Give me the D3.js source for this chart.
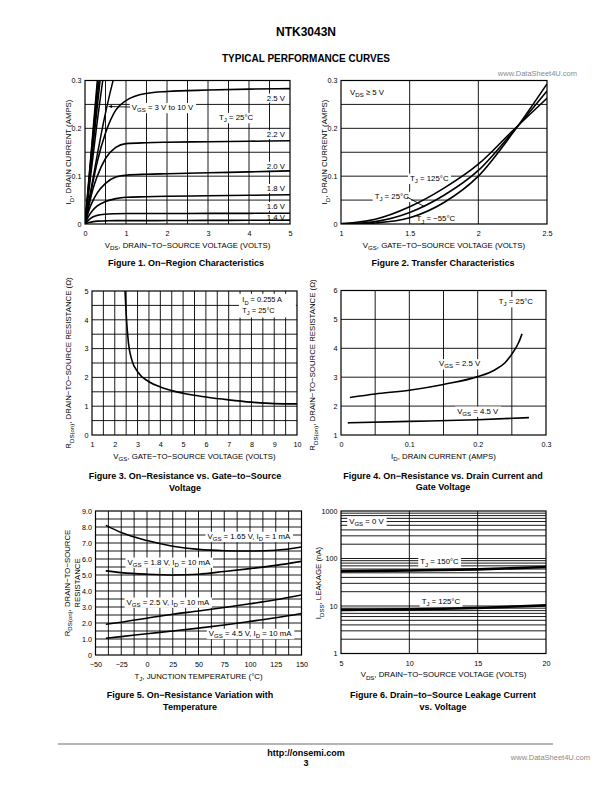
<!DOCTYPE html>
<html><head><meta charset="utf-8">
<script src="https://cdn.jsdelivr.net/npm/d3@7"></script>
<style>body{margin:0;background:#fff}svg{display:block}</style>
</head><body><svg id="page" width="612" height="792"></svg>
<script>
// ---------- DATA ----------
// Figure 1: On-region characteristics
const fig1Vds = [0, 0.1, 0.2, 0.3, 0.5, 0.75, 1, 1.5, 2, 3, 4, 5];
const fig1Id14 = [0, 0.003, 0.005, 0.006, 0.0065, 0.007, 0.007, 0.007, 0.0072, 0.0075, 0.0078, 0.008];
const fig1Id16 = [0, 0.009, 0.015, 0.018, 0.0205, 0.0215, 0.022, 0.022, 0.022, 0.0222, 0.0223, 0.0225];
const fig1Id18 = [0, 0.018, 0.03, 0.038, 0.047, 0.053, 0.056, 0.057, 0.058, 0.059, 0.060, 0.061];
const fig1Id20 = [0, 0.03, 0.05, 0.065, 0.085, 0.098, 0.102, 0.104, 0.105, 0.107, 0.109, 0.111];
const fig1Id22 = [0, 0.04, 0.075, 0.1, 0.137, 0.16, 0.168, 0.17, 0.171, 0.172, 0.173, 0.174];
const fig1Id25 = [0, 0.045, 0.09, 0.13, 0.19, 0.238, 0.258, 0.273, 0.277, 0.28, 0.282, 0.283];
const fig1SteepVds = [0, 0.1, 0.2, 0.3, 0.4, 0.5, 0.6, 0.7];
const fig1Id3V = [0, 0.05, 0.098, 0.145, 0.19, 0.232, 0.27, 0.305];
const fig1Id4V = [0, 0.073, 0.145, 0.215, 0.28, 0.34, 0.4, 0.46];
const fig1Id5V = [0, 0.083, 0.165, 0.245, 0.325, 0.4, 0.48, 0.55];
const fig1Id6V = [0, 0.089, 0.178, 0.265, 0.35, 0.44, 0.52, 0.6];
const fig1Id8V = [0, 0.096, 0.19, 0.285, 0.38, 0.47, 0.56, 0.65];
const fig1Id10V = [0, 0.1, 0.2, 0.3, 0.4, 0.5, 0.6, 0.7];
const fig1XTicks = [0, 1, 2, 3, 4, 5];
const fig1YTicks = [0, 0.1, 0.2, 0.3];
const fig1CurveLabels = ["2.5 V", "2.2 V", "2.0 V", "1.8 V", "1.6 V", "1.4 V"];
const fig1CurveLabelY = [0.264, 0.1875, 0.1215, 0.075, 0.0375, 0.015];

// Figure 2: Transfer characteristics
const fig2Vgs = [1.0, 1.1, 1.25, 1.5, 1.75, 2.0, 2.25, 2.5];
const fig2Id125 = [0.001, 0.003, 0.01, 0.036, 0.075, 0.125, 0.195, 0.263];
const fig2Id25 = [0, 0.001, 0.005, 0.024, 0.06, 0.112, 0.192, 0.278];
const fig2IdM55 = [0, 0, 0.002, 0.013, 0.045, 0.1, 0.19, 0.293];
const fig2XTicks = [1, 1.5, 2, 2.5];
const fig2YTicks = [0, 0.1, 0.2, 0.3];

// Figure 3: On-resistance vs gate-to-source voltage
const fig3Vgs = [2.45, 2.5, 2.6, 2.75, 3, 3.5, 4, 5, 6, 7, 8, 9, 10];
const fig3Rds = [5.0, 4.2, 3.2, 2.6, 2.2, 1.85, 1.67, 1.45, 1.32, 1.22, 1.14, 1.09, 1.08];
const fig3XTicks = [1, 2, 3, 4, 5, 6, 7, 8, 9, 10];
const fig3YTicks = [0, 1, 2, 3, 4, 5];

// Figure 4: On-resistance vs drain current
const fig4Id25 = [0.013, 0.05, 0.1, 0.15, 0.2, 0.225, 0.24, 0.25, 0.26, 0.265];
const fig4Rds25 = [2.3, 2.42, 2.55, 2.75, 3.02, 3.25, 3.5, 3.8, 4.2, 4.5];
const fig4Id45 = [0.01, 0.1, 0.2, 0.275];
const fig4Rds45 = [1.42, 1.47, 1.53, 1.6];
const fig4XTicks = [0, 0.1, 0.2, 0.3];
const fig4YTicks = [1, 2, 3, 4, 5, 6];

// Figure 5: On-resistance vs temperature
const fig5Tj = [-40, -25, 0, 25, 50, 75, 100, 125, 150];
const fig5R165 = [8.1, 7.65, 7.15, 6.8, 6.6, 6.52, 6.5, 6.55, 6.75];
const fig5R18 = [5.26, 5.15, 5.05, 5.0, 5.05, 5.22, 5.4, 5.6, 5.85];
const fig5R25 = [1.92, 2.05, 2.3, 2.55, 2.75, 2.97, 3.2, 3.45, 3.75];
const fig5R45 = [1.05, 1.15, 1.33, 1.5, 1.68, 1.88, 2.1, 2.33, 2.6];
const fig5XTicks = [-50, -25, 0, 25, 50, 75, 100, 125, 150];
const fig5YTicks = [0, 1, 2, 3, 4, 5, 6, 7, 8, 9];

// Figure 6: Leakage current vs voltage
const fig6Vds = [5, 10, 15, 20];
const fig6I150 = [54, 56, 59, 66];
const fig6I125 = [8.3, 8.5, 9.1, 10.3];
const fig6XTicks = [5, 10, 15, 20];
const fig6YTicks = [1, 10, 100, 1000];

// ---------- DRAWING ----------
const FONT = '"Liberation Sans", Arial, Helvetica, sans-serif';
const LFS = 7.8;   // in-plot label / axis-title size
const TFS = 7.2;   // tick label size
const CFS = 9;     // caption size
const svg = d3.select('#page').attr('font-family', FONT);
const zip = (xs, ys) => xs.map((v, i) => [v, ys[i]]);

function rich(sel, str, fs) {
  const re = /_\{([^}]*)\}/g;
  let last = 0, m, sub = false;
  while ((m = re.exec(str))) {
    if (m.index > last) {
      sel.append('tspan').attr('dy', sub ? -fs * 0.3 : null).text(str.slice(last, m.index));
      sub = false;
    }
    sel.append('tspan').attr('font-size', fs * 0.78).attr('dy', sub ? 0 : fs * 0.3).text(m[1]);
    sub = true;
    last = re.lastIndex;
  }
  if (last < str.length) sel.append('tspan').attr('dy', sub ? -fs * 0.3 : null).text(str.slice(last));
}

function label(g, x, y, str, o = {}) {
  const fs = o.fs || LFS;
  const t = g.append('text').attr('x', x).attr('y', y + fs * 0.36)
    .attr('font-size', fs).attr('text-anchor', o.anchor || 'start').attr('fill', o.fill || '#000')
    .attr('font-weight', o.bold ? 'bold' : null);
  rich(t, str, fs);
  if (o.box) {
    const b = t.node().getBBox();
    g.insert('rect', () => t.node()).attr('x', b.x - 2).attr('y', b.y)
      .attr('width', b.width + 4).attr('height', b.height).attr('fill', '#fff');
  }
  return t;
}

let clipN = 0;
function panel(p) {
  const g = svg.append('g');
  const x = d3.scaleLinear().domain(p.xDomain).range([p.left, p.right]);
  const y = (p.log ? d3.scaleLog() : d3.scaleLinear()).domain(p.yDomain).range([p.bottom, p.top]);
  g.append('g').selectAll('line').data(p.xGrid).join('line')
    .attr('x1', d => x(d)).attr('x2', d => x(d)).attr('y1', p.top).attr('y2', p.bottom)
    .attr('stroke', '#000').attr('stroke-width', 0.9);
  g.append('g').selectAll('line').data(p.yGrid).join('line')
    .attr('y1', d => y(d)).attr('y2', d => y(d)).attr('x1', p.left).attr('x2', p.right)
    .attr('stroke', '#000').attr('stroke-width', 0.9);
  const ax = g.append('g').attr('transform', `translate(0,${p.bottom})`)
    .call(d3.axisBottom(x).tickValues(p.xTicks).tickFormat(p.xFmt).tickSize(0).tickPadding(7.3));
  ax.attr('font-size', TFS).attr('font-family', FONT);
  ax.select('.domain').remove();
  const ay = g.append('g').attr('transform', `translate(${p.left},0)`)
    .call(d3.axisLeft(y).tickValues(p.yTicks).tickFormat(p.yFmt).tickSize(0).tickPadding(3.5));
  ay.attr('font-size', TFS).attr('font-family', FONT);
  ay.select('.domain').remove();
  const id = 'clip' + (clipN++);
  svg.append('clipPath').attr('id', id).append('rect')
    .attr('x', p.left).attr('y', p.top).attr('width', p.right - p.left).attr('height', p.bottom - p.top);
  const annot = g.append('g');
  const curves = g.append('g').attr('clip-path', `url(#${id})`);
  g.append('rect').attr('x', p.left).attr('y', p.top).attr('width', p.right - p.left)
    .attr('height', p.bottom - p.top).attr('fill', 'none').attr('stroke', '#000').attr('stroke-width', 1.2);
  const line = d3.line().x(d => x(d[0])).y(d => y(d[1])).curve(d3.curveMonotoneX);
  function curve(pts, w = 1.6) {
    curves.append('path').attr('d', line(pts)).attr('fill', 'none').attr('stroke', '#000')
      .attr('stroke-width', w).attr('stroke-linejoin', 'round');
  }
  if (p.xTitle) label(g, (p.left + p.right) / 2, p.bottom + 21, p.xTitle, { anchor: 'middle' });
  if (p.yTitle) {
    p.yTitle.forEach((t, i) => {
      const tg = g.append('g').attr('transform', `translate(${p.yTitleX[i]},${p.yTitleY}) rotate(-90)`);
      label(tg, 0, 0, t, { anchor: 'middle' });
    });
  }
  return { g, x, y, annot, curve };
}

const fmt = d => String(d);
const fmtMinus = d => (d < 0 ? '\u2212' + Math.abs(d) : String(d));

// Title
label(svg, 306, 32, 'NTK3043N', { anchor: 'middle', fs: 12, bold: true });
label(svg, 306, 58, 'TYPICAL PERFORMANCE CURVES', { anchor: 'middle', fs: 10, bold: true });
label(svg, 577, 73, 'www.DataSheet4U.com', { anchor: 'end', fs: 7.5, fill: '#8a8a8a' });

// ---- Figure 1 ----
{
  const P = panel({
    left: 85, right: 290, top: 80.5, bottom: 224,
    xDomain: [0, 5], yDomain: [0, 0.3],
    xGrid: d3.range(0.5, 5, 0.5), yGrid: [0.05, 0.1, 0.15, 0.2, 0.25],
    xTicks: fig1XTicks, yTicks: fig1YTicks, xFmt: fmt, yFmt: fmt,
    xTitle: 'V_{DS}, DRAIN\u2212TO\u2212SOURCE VOLTAGE (VOLTS)',
    yTitle: ['I_{D}, DRAIN CURRENT (AMPS)'], yTitleX: [68.5], yTitleY: 152
  });
  fig1CurveLabels.forEach((t, i) => label(P.annot, P.x(4.88), P.y(fig1CurveLabelY[i]), t, { anchor: 'end', box: true }));
  label(P.annot, P.x(1.14), P.y(0.2444), 'V_{GS} = 3 V to 10 V', { box: true });
  label(P.annot, P.x(3.27), P.y(0.2235), 'T_{J} = 25\u00B0C', { box: true });
  P.annot.append('line').attr('x1', P.x(0.62)).attr('y1', P.y(0.2455)).attr('x2', P.x(1.1)).attr('y2', P.y(0.2445))
    .attr('stroke', '#000').attr('stroke-width', 0.9);
  P.annot.append('path')
    .attr('d', d3.line()([[P.x(0.56), P.y(0.2458)], [P.x(0.66), P.y(0.2425)], [P.x(0.66), P.y(0.249)]]) + 'Z')
    .attr('fill', '#000');
  [fig1Id14, fig1Id16, fig1Id18, fig1Id20, fig1Id22, fig1Id25].forEach(s => P.curve(zip(fig1Vds, s)));
  [fig1Id3V, fig1Id4V, fig1Id5V, fig1Id6V, fig1Id8V, fig1Id10V].forEach(s => P.curve(zip(fig1SteepVds, s), 1.5));
  label(svg, 186, 263, 'Figure 1. On\u2212Region Characteristics', { anchor: 'middle', fs: CFS, bold: true });
}

// ---- Figure 2 ----
{
  const P = panel({
    left: 341, right: 547, top: 80.5, bottom: 224,
    xDomain: [1, 2.5], yDomain: [0, 0.3],
    xGrid: [1.5, 2], yGrid: [0.05, 0.1, 0.15, 0.2, 0.25],
    xTicks: fig2XTicks, yTicks: fig2YTicks, xFmt: fmt, yFmt: fmt,
    xTitle: 'V_{GS}, GATE\u2212TO\u2212SOURCE VOLTAGE (VOLTS)',
    yTitle: ['I_{D}, DRAIN CURRENT (AMPS)'], yTitleX: [324.5], yTitleY: 152
  });
  label(P.annot, P.x(1.066), P.y(0.2755), 'V_{DS} \u2265 5 V', { box: true });
  label(P.annot, P.x(1.503), P.y(0.0965), 'T_{J} = 125\u00B0C', { box: true });
  label(P.annot, P.x(1.245), P.y(0.0587), 'T_{J} = 25\u00B0C', { box: true });
  label(P.annot, P.x(1.55), P.y(0.0115), 'T_{J} = \u221255\u00B0C', { box: true });
  P.annot.append('line').attr('x1', P.x(1.48)).attr('y1', P.y(0.0566)).attr('x2', P.x(1.61)).attr('y2', P.y(0.036))
    .attr('stroke', '#000').attr('stroke-width', 0.9);
  [fig2Id125, fig2Id25, fig2IdM55].forEach(s => P.curve(zip(fig2Vgs, s)));
  label(svg, 443, 263, 'Figure 2. Transfer Characteristics', { anchor: 'middle', fs: CFS, bold: true });
}

// ---- Figure 3 ----
{
  const P = panel({
    left: 92, right: 297, top: 291, bottom: 435,
    xDomain: [1, 10], yDomain: [0, 5],
    xGrid: d3.range(1.5, 10, 0.5), yGrid: d3.range(0.5, 5, 0.5),
    xTicks: fig3XTicks, yTicks: fig3YTicks, xFmt: fmt, yFmt: fmt,
    xTitle: 'V_{GS}, GATE\u2212TO\u2212SOURCE VOLTAGE (VOLTS)',
    yTitle: ['R_{DS(on)}, DRAIN\u2212TO\u2212SOURCE RESISTANCE (\u03A9)'], yTitleX: [68.5], yTitleY: 363
  });
  const bx = P.x(7.45), by = P.y(4.9);
  P.annot.append('rect').attr('x', bx).attr('y', by).attr('width', P.x(9.95) - bx).attr('height', P.y(4.08) - by).attr('fill', '#fff');
  label(P.annot, P.x(7.6), P.y(4.7), 'I_{D} = 0.255 A', { fs: 7.4 });
  label(P.annot, P.x(7.6), P.y(4.33), 'T_{J} = 25\u00B0C', { fs: 7.4 });
  P.curve(zip(fig3Vgs, fig3Rds));
  label(svg, 185, 476, 'Figure 3. On\u2212Resistance vs. Gate\u2212to\u2212Source', { anchor: 'middle', fs: CFS, bold: true });
  label(svg, 185, 488, 'Voltage', { anchor: 'middle', fs: CFS, bold: true });
}

// ---- Figure 4 ----
{
  const P = panel({
    left: 341, right: 546, top: 290.5, bottom: 435,
    xDomain: [0, 0.3], yDomain: [1, 6],
    xGrid: [0.05, 0.1, 0.15, 0.2, 0.25], yGrid: [2, 3, 4, 5],
    xTicks: fig4XTicks, yTicks: fig4YTicks, xFmt: fmt, yFmt: fmt,
    xTitle: 'I_{D}, DRAIN CURRENT (AMPS)',
    yTitle: ['R_{DS(on)}, DRAIN\u2212TO\u2212SOURCE RESISTANCE (\u03A9)'], yTitleX: [312.5], yTitleY: 365
  });
  label(P.annot, P.x(0.231), P.y(5.63), 'T_{J} = 25\u00B0C', { box: true });
  label(P.annot, P.x(0.1435), P.y(3.48), 'V_{GS} = 2.5 V', { box: true });
  label(P.annot, P.x(0.17), P.y(1.84), 'V_{GS} = 4.5 V', { box: true });
  P.curve(zip(fig4Id25, fig4Rds25));
  P.curve(zip(fig4Id45, fig4Rds45));
  label(svg, 443, 476, 'Figure 4. On\u2212Resistance vs. Drain Current and', { anchor: 'middle', fs: CFS, bold: true });
  label(svg, 443, 487, 'Gate Voltage', { anchor: 'middle', fs: CFS, bold: true });
}

// ---- Figure 5 ----
{
  const P = panel({
    left: 95.5, right: 301.5, top: 511, bottom: 655,
    xDomain: [-50, 150], yDomain: [0, 9],
    xGrid: d3.range(-37.5, 150, 12.5), yGrid: d3.range(0.5, 9, 0.5),
    xTicks: fig5XTicks, yTicks: fig5YTicks, xFmt: fmtMinus, yFmt: d => (d === 0 ? '0' : d.toFixed(1)),
    xTitle: 'T_{J}, JUNCTION TEMPERATURE (\u00B0C)',
    yTitle: ['R_{DS(on)}, DRAIN\u2212TO\u2212SOURCE', 'RESISTANCE'], yTitleX: [67, 77], yTitleY: 583
  });
  label(P.annot, P.x(58.7), P.y(7.44), 'V_{GS} = 1.65 V, I_{D} = 1 mA', { box: true });
  label(P.annot, P.x(-18.9), P.y(5.83), 'V_{GS} = 1.8 V, I_{D} = 10 mA', { box: true });
  label(P.annot, P.x(-19.9), P.y(3.33), 'V_{GS} = 2.5 V, I_{D} = 10 mA', { box: true });
  label(P.annot, P.x(60), P.y(1.375), 'V_{GS} = 4.5 V, I_{D} = 10 mA', { box: true });
  [fig5R165, fig5R18, fig5R25, fig5R45].forEach(s => P.curve(zip(fig5Tj, s)));
  label(svg, 190, 695, 'Figure 5. On\u2212Resistance Variation with', { anchor: 'middle', fs: CFS, bold: true });
  label(svg, 190, 707, 'Temperature', { anchor: 'middle', fs: CFS, bold: true });
}

// ---- Figure 6 ----
{
  const logGrid = [];
  [1, 10, 100].forEach(dec => d3.range(1, 10).forEach(k => { if (dec * k > 1) logGrid.push(dec * k); }));
  const P = panel({
    left: 341, right: 546, top: 511, bottom: 653.5,
    xDomain: [5, 20], yDomain: [1, 1000], log: true,
    xGrid: [10, 15], yGrid: logGrid,
    xTicks: fig6XTicks, yTicks: fig6YTicks, xFmt: fmt, yFmt: fmt,
    xTitle: 'V_{DS}, DRAIN\u2212TO\u2212SOURCE VOLTAGE (VOLTS)',
    yTitle: ['I_{DSS}, LEAKAGE (nA)'], yTitleX: [318.5], yTitleY: 583
  });
  label(P.annot, P.x(5.6), P.y(616), 'V_{GS} = 0 V', { box: true });
  label(P.annot, P.x(10.8), P.y(86), 'T_{J} = 150\u00B0C', { box: true });
  label(P.annot, P.x(10.9), P.y(12.9), 'T_{J} = 125\u00B0C', { box: true });
  P.curve(zip(fig6Vds, fig6I150), 2.6);
  P.curve(zip(fig6Vds, fig6I125), 2.6);
  label(svg, 443, 695, 'Figure 6. Drain\u2212to\u2212Source Leakage Current', { anchor: 'middle', fs: CFS, bold: true });
  label(svg, 443, 707, 'vs. Voltage', { anchor: 'middle', fs: CFS, bold: true });
}

// Footer
svg.append('line').attr('x1', 58).attr('x2', 553).attr('y1', 744).attr('y2', 744).attr('stroke', '#b5b5b5').attr('stroke-width', 2);
label(svg, 306, 753, 'http://onsemi.com', { anchor: 'middle', fs: 9, bold: true });
label(svg, 306, 763, '3', { anchor: 'middle', fs: 9, bold: true });
label(svg, 590, 757, 'www.DataSheet4U.com', { anchor: 'end', fs: 7.5, fill: '#8a8a8a' });
</script></body></html>
